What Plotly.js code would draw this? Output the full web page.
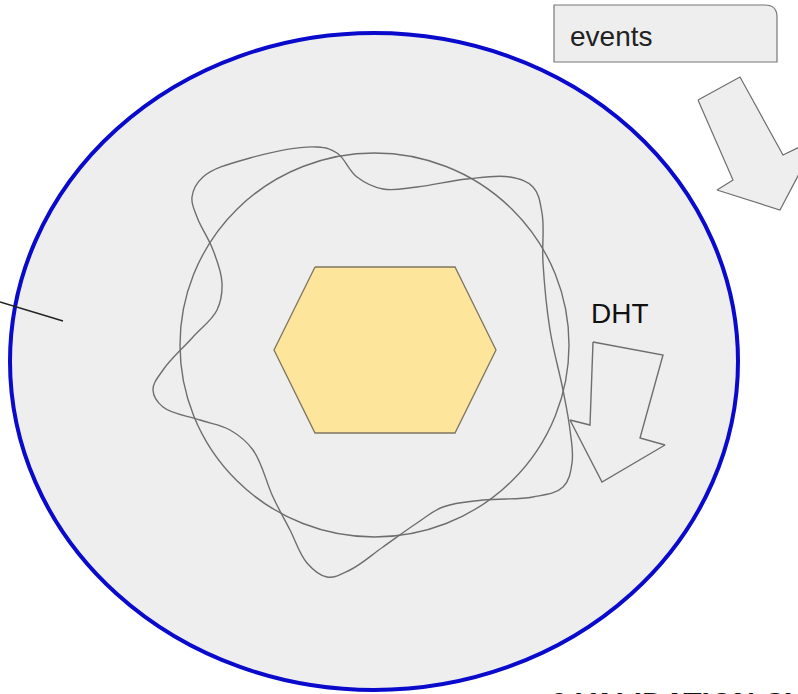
<!DOCTYPE html>
<html>
<head>
<meta charset="utf-8">
<script src="https://cdn.plot.ly/plotly-3.0.1.min.js"></script>
<style>
html,body{margin:0;padding:0;overflow:hidden;background:#fff;}
#chart{width:798px;height:694px;}
</style>
</head>
<body>
<div id="chart"></div>
<script>
// Outer ellipse bounding box [x0, y0, x1, y1]
var outerEllipse = [10, 33, 738, 690];
// Inner circle bounding box
var innerCircle = [180, 153, 569, 537];
// Hexagon vertices
var hexX = [315, 455, 496, 455, 315, 274, 315];
var hexY = [267, 267, 350, 433, 433, 350, 267];
// Wavy closed curve
var waveX = [192, 203, 250, 317, 337, 357, 383, 417, 467, 510, 533, 542, 543, 550, 563, 570, 572, 563, 533, 483, 443, 417, 383, 350, 327, 307, 290, 273, 253, 230, 200, 163, 153, 163, 193, 217, 222, 213, 197, 192];
var waveY = [197, 177, 158, 147, 153, 177, 189, 187, 179, 177, 187, 213, 263, 330, 390, 430, 463, 487, 497, 500, 507, 523, 547, 570, 577, 563, 530, 497, 450, 430, 420, 407, 390, 370, 337, 310, 283, 250, 217, 197];
// DHT arrow
var dhtArrowX = [593, 663, 640, 665, 602, 570, 590, 593];
var dhtArrowY = [342, 355, 438, 445, 482, 420, 425, 342];
// Events arrow (top right)
var evArrowX = [698, 740, 783, 818, 780, 717, 733, 698];
var evArrowY = [100, 77, 155, 138, 210, 190, 180, 100];
// Left pointer line
var leftLineX = [0, 63];
var leftLineY = [302, 321];
// Events box [x0, y0, x1, y1, cornerRadius]
var eventsBox = [554, 5, 777, 62, 12];
// Labels
var labelText = ["events", "DHT", "0 VALIDATION CYCLE"];
var labelX = [568, 589, 549];
var labelY = [36, 313, 684];

var grey = "#6e6e6e";
var traces = [
  {x: hexX, y: hexY, mode: "lines", fill: "toself", fillcolor: "#fde59b",
   line: {color: "#7f7560", width: 1.3}, hoverinfo: "skip"},
  {x: waveX, y: waveY, mode: "lines", line: {color: grey, width: 1.4, shape: "spline", smoothing: 1.1},
   hoverinfo: "skip"},
  {x: dhtArrowX, y: dhtArrowY, mode: "lines", fill: "toself", fillcolor: "rgba(238,238,238,0.35)",
   line: {color: grey, width: 1.4}, hoverinfo: "skip"},
  {x: evArrowX, y: evArrowY, mode: "lines", fill: "toself", fillcolor: "#eeeeee",
   line: {color: grey, width: 1.2}, hoverinfo: "skip", cliponaxis: false},
  {x: leftLineX, y: leftLineY, mode: "lines", line: {color: "#222", width: 1.4}, hoverinfo: "skip"}
];

var b = eventsBox;
var boxPath = "M " + b[0] + " " + b[1] + " L " + (b[2] - b[4]) + " " + b[1] +
  " Q " + b[2] + " " + b[1] + " " + b[2] + " " + (b[1] + b[4]) +
  " L " + b[2] + " " + b[3] + " L " + b[0] + " " + b[3] + " Z";

var shapes = [
  {type: "circle", xref: "x", yref: "y", layer: "below",
   x0: outerEllipse[0], y0: outerEllipse[1], x1: outerEllipse[2], y1: outerEllipse[3],
   fillcolor: "#eeeeee", line: {color: "#0a0acc", width: 4}},
  {type: "circle", xref: "x", yref: "y", layer: "below",
   x0: innerCircle[0], y0: innerCircle[1], x1: innerCircle[2], y1: innerCircle[3],
   fillcolor: "rgba(0,0,0,0)", line: {color: grey, width: 1.4}},
  {type: "path", xref: "x", yref: "y", layer: "below", path: boxPath,
   fillcolor: "#eeeeee", line: {color: "#777", width: 1.2}}
];

var annotations = [
  {x: labelX[0], y: labelY[0], text: labelText[0], xanchor: "left", yanchor: "middle",
   showarrow: false, font: {family: "Liberation Sans, Arial, sans-serif", size: 28, color: "#222"}},
  {x: labelX[1], y: labelY[1], text: labelText[1], xanchor: "left", yanchor: "middle",
   showarrow: false, font: {family: "Liberation Sans, Arial, sans-serif", size: 28, color: "#111"}},
  {x: labelX[2], y: labelY[2], text: labelText[2], xanchor: "left", yanchor: "top",
   showarrow: false, font: {family: "Liberation Sans, Arial, sans-serif", size: 30, color: "#111", weight: "bold"}}
];

var layout = {
  width: 798, height: 694,
  margin: {l: 0, r: 0, t: 0, b: 0, pad: 0},
  paper_bgcolor: "#ffffff", plot_bgcolor: "#ffffff",
  showlegend: false,
  xaxis: {range: [0, 798], visible: false, fixedrange: true},
  yaxis: {range: [694, 0], visible: false, fixedrange: true},
  shapes: shapes,
  annotations: annotations
};

Plotly.newPlot("chart", traces, layout, {staticPlot: true, displayModeBar: false});
</script>
</body>
</html>
